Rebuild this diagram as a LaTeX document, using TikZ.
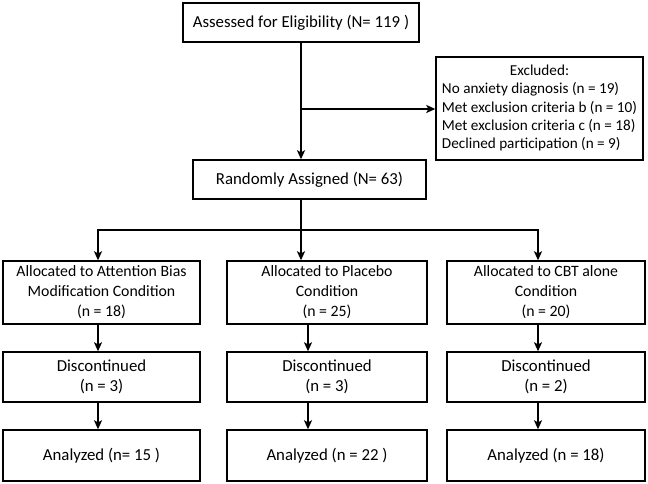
\documentclass[tikz,border=0pt]{standalone}
\usepackage{fontspec}
\setmainfont{Carlito}
\usetikzlibrary{positioning, arrows.meta}

\begin{document}
\begin{tikzpicture}[x=1pt, y=-1pt, >={Stealth[length=9pt, width=8pt, inset=2pt]},
    box/.style={draw, line width=1.4pt, align=center, inner sep=2pt,
        font=\fontsize{16.8}{20.5}\selectfont},
    line/.style={line width=1.4pt}]
        \useasboundingbox (0,0) rectangle (648,484);
        % columns of the arrows
        \coordinate (c0) at (301,0);
        \coordinate (c1) at (98,0);
        \coordinate (c2) at (308,0);
        \coordinate (c3) at (538,0);
        % top part
        \node [box, minimum width=236pt, minimum height=39pt] (assess) at (301,22.5) {Assessed for Eligibility (N= 119 )};
        \node [box, minimum width=207pt, minimum height=103pt, font=\fontsize{15.2}{18.3}\selectfont] (excl) at (539.5,108.5)
            {\begin{tabular}{@{}l@{}}\multicolumn{1}{@{}c@{}}{Excluded:}\\
             No anxiety diagnosis (n = 19)\\
             Met exclusion criteria b (n = 10)\\
             Met exclusion criteria c (n = 18)\\
             Declined participation (n = 9)\end{tabular}};
        \node [box, minimum width=233pt, minimum height=39pt] (random) at (309.5,179.5) {Randomly Assigned (N= 63)};
        % allocation
        \node [box, minimum width=197pt, minimum height=63pt, font=\fontsize{15.8}{20}\selectfont] (alloc1) at (101.5,292.5) {Allocated to Attention Bias\\Modification Condition\\(n = 18)};
        \node [box, minimum width=200pt, minimum height=63pt, font=\fontsize{15.8}{20}\selectfont] (alloc2) at (327,292.5) {Allocated to Placebo\\Condition\\(n = 25)};
        \node [box, minimum width=198pt, minimum height=63pt, font=\fontsize{15.8}{20}\selectfont] (alloc3) at (546,292.5) {Allocated to CBT alone\\Condition\\(n = 20)};
        % discontinued
        \node [box, minimum width=197pt, minimum height=50pt] (disc1) at (101.5,377) {Discontinued\\(n = 3)};
        \node [box, minimum width=200pt, minimum height=50pt] (disc2) at (327,377) {Discontinued\\(n = 3)};
        \node [box, minimum width=198pt, minimum height=50pt] (disc3) at (546,377) {Discontinued\\(n = 2)};
        % analyzed
        \node [box, minimum width=197pt, minimum height=51pt] (anal1) at (101.5,455.5) {Analyzed (n= 15 )};
        \node [box, minimum width=200pt, minimum height=51pt] (anal2) at (327,455.5) {Analyzed (n = 22 )};
        \node [box, minimum width=198pt, minimum height=51pt] (anal3) at (546,455.5) {Analyzed (n = 18)};
        % connectors
        \coordinate (split) at (301,109);
        \draw [line, ->] (assess.south -| c0) -- (random.north -| c0);
        \draw [line, ->] (split) -- (excl.west |- split);
        \coordinate (bar) at (301,230);
        \draw [line] (random.south -| c0) -- (bar);
        \draw [line, ->] (bar) -| (alloc1.north -| c1);
        \draw [line, ->] (bar) -| (alloc3.north -| c3);
        \draw [line, ->] (bar) -- (alloc2.north -| bar);
        \draw [line, ->] (alloc1.south -| c1) -- (disc1.north -| c1);
        \draw [line, ->] (alloc2.south -| c2) -- (disc2.north -| c2);
        \draw [line, ->] (alloc3.south -| c3) -- (disc3.north -| c3);
        \draw [line, ->] (disc1.south -| c1) -- (anal1.north -| c1);
        \draw [line, ->] (disc2.south -| c2) -- (anal2.north -| c2);
        \draw [line, ->] (disc3.south -| c3) -- (anal3.north -| c3);
    \end{tikzpicture}
\end{document}
